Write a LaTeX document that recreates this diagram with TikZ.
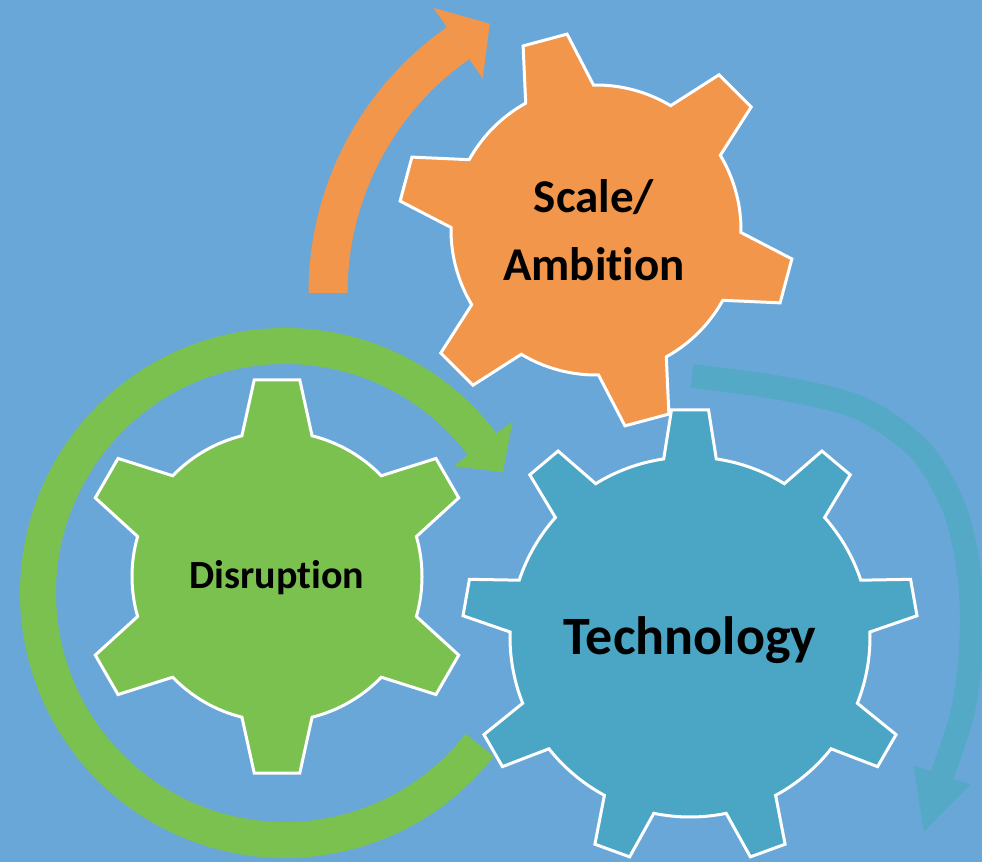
\documentclass[tikz,border=0pt]{standalone}
\usepackage{fontspec}
\setmainfont{Carlito}[Ligatures=NoCommon]

\definecolor{backblue}{RGB}{106,167,217}
\definecolor{cogorange}{RGB}{241,150,74}
\definecolor{coggreen}{RGB}{122,193,80}
\definecolor{cogteal}{RGB}{74,166,196}
\definecolor{turnteal}{RGB}{84,170,198}

\tikzset{
  pics/cog/.style args={#1/#2/#3/#4/#5/#6}{code={
    \path[pic actions] ({#6-#5}:#3)
      \foreach \k in {1,...,#1} {
        -- ({#6+(\k-1)*360/#1-#4}:#2) -- ({#6+(\k-1)*360/#1+#4}:#2)
        -- ({#6+(\k-1)*360/#1+#5}:#3)
        arc[start angle={#6+(\k-1)*360/#1+#5}, end angle={#6+\k*360/#1-#5}, radius=#3pt]
      } -- cycle;
  }}
}

\begin{document}
\begin{tikzpicture}[x=1pt,y=1pt,line join=miter]
\tikzstyle{cogline}=[draw=white,line width=3pt]
\tikzstyle{cogtext}=[text=black,align=center,inner sep=0pt]
\useasboundingbox (0,0) rectangle (982,862);
\clip (0,0) rectangle (982,862);
\fill[backblue] (0,0) rectangle (982,862);

\coordinate (sctr) at (596,632);
\coordinate (dctr) at (277,285.5);
\coordinate (tctr) at (690,225);
\coordinate (octr) at (633,569);
\coordinate (gctr) at (285,269);

% turning arrows
\draw[cogorange,line width=39pt] ([shift={(180:305)}]octr) arc[start angle=180,end angle=125,radius=305pt];
\fill[cogorange] ([shift={(125:262)}]octr) -- ([shift={(118:305)}]octr) -- ([shift={(125:348)}]octr) -- cycle;
\draw[coggreen,line width=36pt] ([shift={(-38:247)}]gctr) arc[start angle=-38,end angle=-323,radius=247pt];
\fill[coggreen] ([shift={(37:211)}]gctr) -- ([shift={(29:249)}]gctr) -- ([shift={(37:285)}]gctr) -- cycle;
\draw[turnteal,line width=24pt] plot[smooth] coordinates {(692,486) (780,474) (860,454) (920,412) (955,352) (970,282) (971,212) (962,147) (942,87)};
\fill[turnteal] (970.5,77.5) -- (923.7,30) -- (913.5,96.5) -- cycle;

% cogs
\pic[fill=cogorange,cogline] at (sctr) {cog=6/198/145/6.6/14/45};
\pic[fill=coggreen,cogline] at (dctr) {cog=6/198/145/6.6/14/30};
\pic[fill=cogteal,cogline] at (tctr) {cog=9/228/180/4.65/8.4/90};

\node[cogtext,font=\bfseries\fontsize{47}{68}\selectfont] (scale) at (594,632) {Scale/\\Ambition};
\node[cogtext,font=\bfseries\fontsize{40}{48}\selectfont] (disrupt) at (277,284.5) {Disruption};
\node[cogtext,font=\bfseries\fontsize{54}{64}\selectfont] (tech) at (690,222) {Technology};
\end{tikzpicture}
\end{document}
